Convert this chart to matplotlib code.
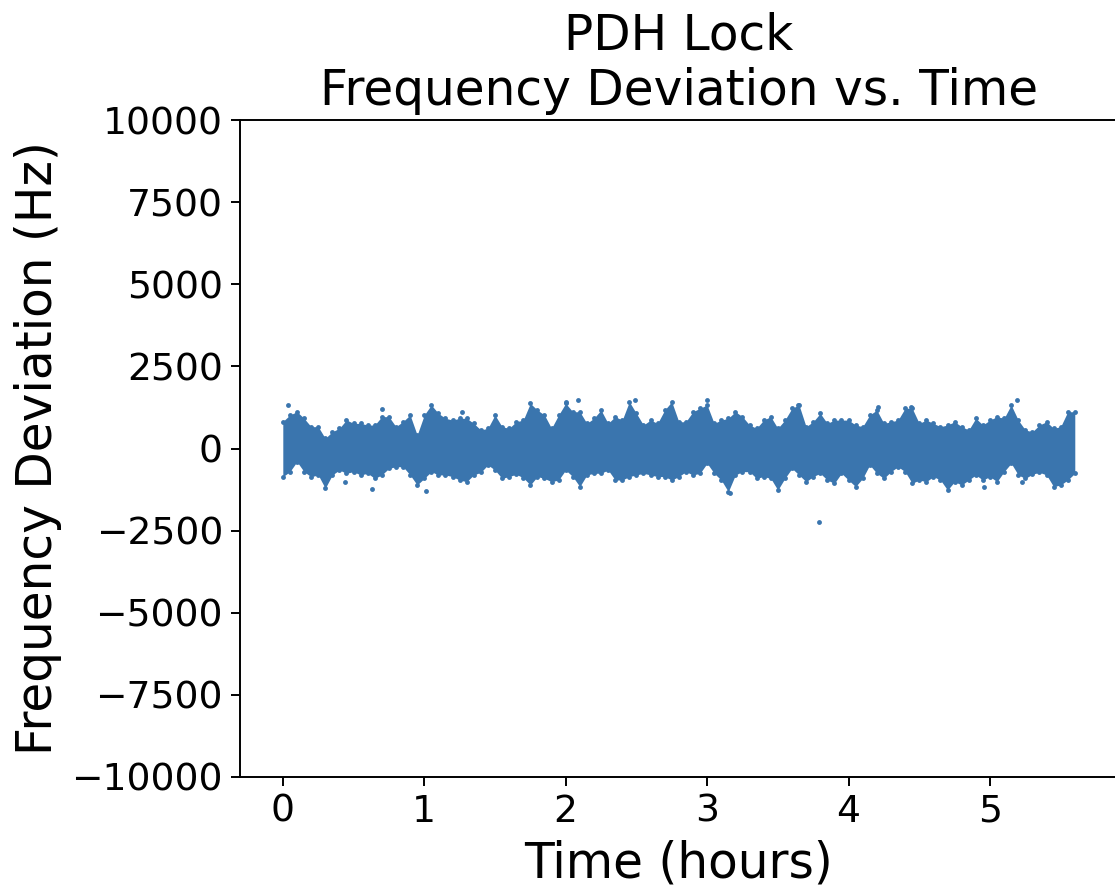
import numpy as np
import matplotlib
matplotlib.use("Agg")
import matplotlib.pyplot as plt

# time axis in hours, one column every 0.05 h
time_h = np.round(np.arange(0, 5.6001, 0.05), 2)

# upper / lower edge of the noise band (Hz)
upper_hz = [820, 1020, 1120, 920, 665, 665, 310, 510, 615, 870, 765, 765, 715, 715, 970, 970, 665, 820, 1020, 410,
            1020, 1325, 1070, 920, 865, 920, 920, 765, 565, 615, 1020, 665, 615, 815, 865, 1375, 1170, 1020, 615,
            1020, 1375, 1120, 1120, 765, 920, 1170, 765, 970, 865, 1425, 1070, 715, 865, 765, 1170, 1425, 815, 815, 1120,
            1225, 1325, 765, 865, 920, 1120, 970, 715, 615, 865, 970, 615, 865, 1225, 1325, 665, 815, 1070, 765, 865,
            865, 865, 715, 665, 1020, 1170, 765, 815, 865, 1225, 1225, 765, 865, 765, 665, 715, 815, 665, 565, 920,
            715, 865, 970, 920, 1325, 865, 565, 510, 715, 815, 615, 665, 1120, 1120]
lower_hz = [-860, -705, -400, -705, -860, -805, -1210, -805, -655, -755, -705, -805, -755, -910, -805, -605, -555, -555, -805, -1110,
            -910, -705, -805, -805, -855, -960, -1010, -805, -725, -500, -655, -910, -855, -785, -890, -1110, -855, -910, -1010,
            -960, -655, -855, -1160, -805, -755, -755, -655, -960, -960, -855, -805, -755, -805, -855, -855, -960, -855, -705, -805,
            -755, -450, -755, -960, -1315, -805, -705, -705, -910, -855, -910, -1265, -910, -605, -805, -1010, -855, -755, -960, -1060,
            -755, -960, -1160, -910, -500, -755, -910, -705, -555, -705, -1060, -960, -1010, -855, -960, -1265, -1010, -1110, -960, -805,
            -960, -855, -1010, -705, -450, -805, -910, -785, -725, -805, -1160, -1110, -960, -755]

# isolated points outside the band
stray_t = [0.04, 0.70, 0.63, 0.44, 1.01, 1.27, 2.00, 2.09, 2.49, 3.00, 3.64, 3.16, 4.21, 4.44, 5.19, 4.96, 5.23, 3.79]
stray_hz = [1325, 1190, -1235, -1030, -1295, 1120, 1425, 1475, 1475, 1475, 1325, -1365, 1275, 1275, 1475, -1160, -1020, -2230]

color = '#3a75ae'

fig = plt.figure(figsize=(1115 / 175, 889 / 175), dpi=175)
# right edge of the axes sits just past the canvas, as in the cropped original
ax = fig.add_axes([0.2152, 0.126, 0.7873, 0.739])

ax.fill_between(time_h, lower_hz, upper_hz, color=color, lw=0)
ax.scatter(time_h, upper_hz, s=4, color=color, lw=0)
ax.scatter(time_h, lower_hz, s=4, color=color, lw=0)
ax.scatter(stray_t, stray_hz, s=4, color=color, lw=0)

ax.set_xlim(-0.303, 5.904)
ax.set_ylim(-10000, 10000)
ax.set_yticks(np.arange(-10000, 10001, 2500))
ax.set_xticks(range(0, 6))
ax.tick_params(labelsize=15.5)

ax.set_title('PDH Lock\nFrequency Deviation vs. Time', fontsize=20)
ax.set_xlabel('Time (hours)', fontsize=20)
ax.set_ylabel('Frequency Deviation (Hz)', fontsize=20)

fig.savefig('out.png', dpi=175)
